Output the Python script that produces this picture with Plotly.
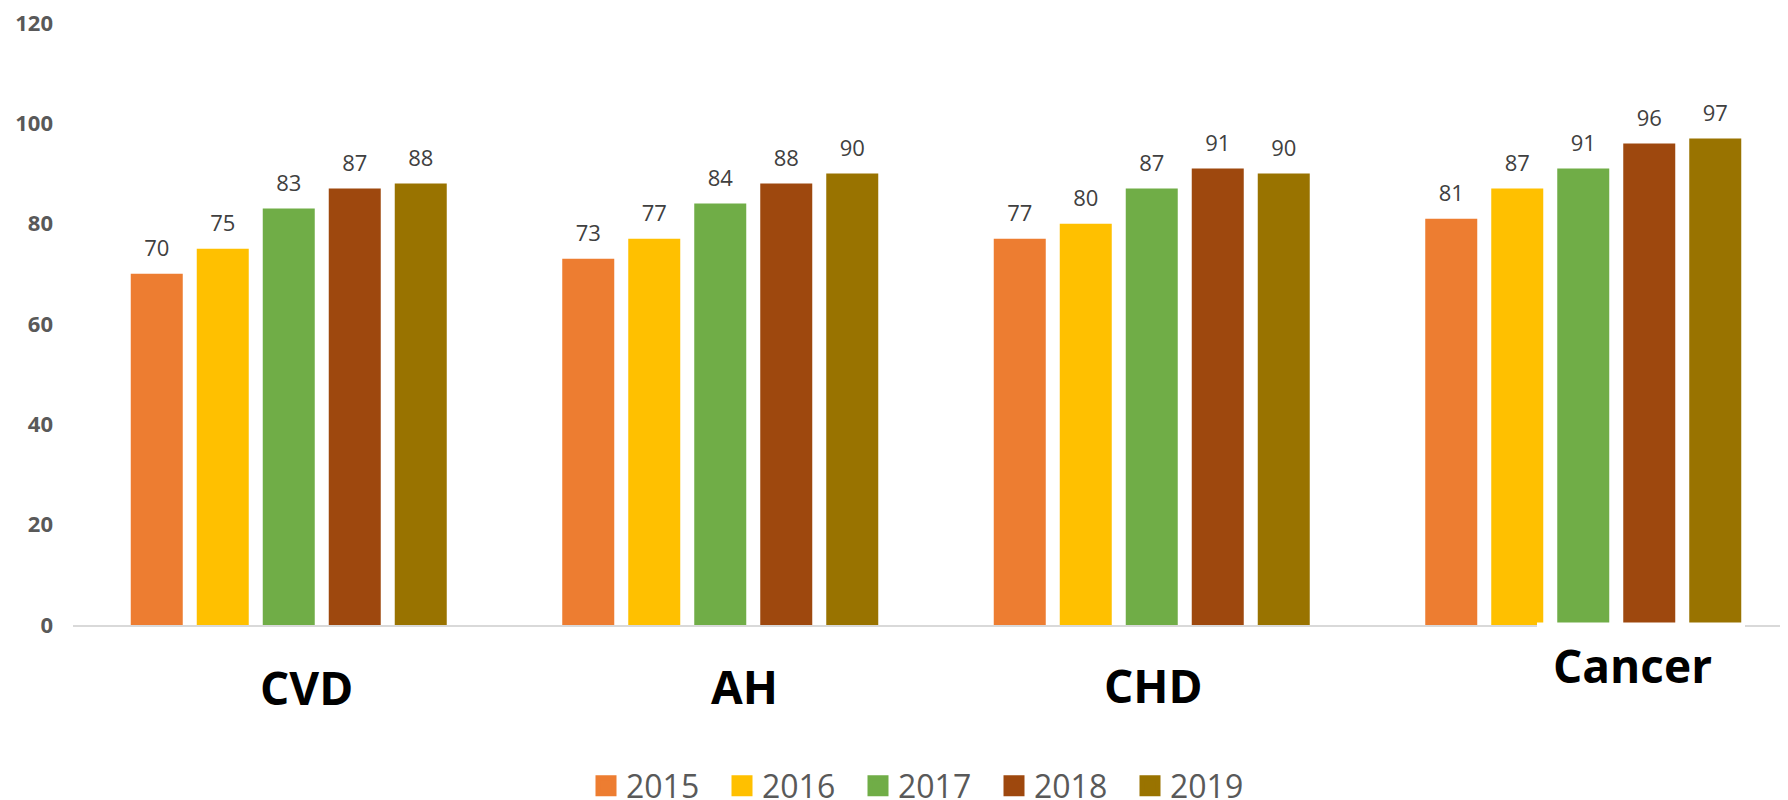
import plotly.graph_objects as go

# ---- data ----
categories = ["CVD", "AH", "CHD", "Cancer"]
years = ["2015", "2016", "2017", "2018", "2019"]
values_2015 = [70, 73, 77, 81]
values_2016 = [75, 77, 80, 87]
values_2017 = [83, 84, 87, 91]
values_2018 = [87, 88, 91, 96]
values_2019 = [88, 90, 90, 97]
y_ticks = [0, 20, 40, 60, 80, 100, 120]

series = [values_2015, values_2016, values_2017, values_2018, values_2019]
colors = ["#ED7D31", "#FFC000", "#70AD47", "#9E480E", "#997300"]

# ---- geometry (pixels, page body has an 8px default margin) ----
PAD = 8
PAGE_W, PAGE_H = 1788, 800
W, H = PAGE_W - PAD, PAGE_H - PAD
plot_left, plot_right = 73 - PAD, PAGE_W - PAD
plot_top, plot_bottom = 22.5 - PAD, 625.5 - PAD
cat_px = 431.5
plot_w = plot_right - plot_left
plot_h = plot_bottom - plot_top
x_end = -0.5 + plot_w / cat_px
gap = 1 - 330 / cat_px

FONT = "Open Sans"

fig = go.Figure()

for yr, vals, col in zip(years, series, colors):
    fig.add_trace(go.Bar(
        x=categories, y=vals, name=yr, marker=dict(color=col, line=dict(width=0)),
        offsetgroup=yr, showlegend=False, hoverinfo="x+y+name",
    ))

for yr, vals, col in zip(years, series, colors):
    fig.add_trace(go.Scatter(
        x=categories, y=vals, mode="markers+text", text=[str(v) for v in vals],
        textposition="top center",
        textfont=dict(family=FONT, size=22, color="#404040"),
        marker=dict(size=17.6, opacity=0, color=col),
        offsetgroup=yr, showlegend=False, hoverinfo="skip", cliponaxis=False,
    ))

for yr, col in zip(years, colors):
    fig.add_trace(go.Scatter(
        x=[None], y=[None], mode="markers", name=yr,
        marker=dict(symbol="square", size=16, color=col, line=dict(color=col, width=5)),
        offsetgroup=yr, showlegend=True, hoverinfo="skip",
    ))

# category labels (reference page pixels)
label_shift = [18, 24, 2, 49]
label_y_px = [687.5, 687, 686, 665.5]
annotations = []
for cat, dx, ypx in zip(categories, label_shift, label_y_px):
    annotations.append(dict(
        x=cat, xref="x", y=(plot_bottom - (ypx - PAD)) / plot_h, yref="paper",
        text=cat, showarrow=False, xshift=dx, yanchor="middle", xanchor="center",
        font=dict(family=FONT, size=46, color="#000000", weight="bold"),
    ))

fig.update_layout(
    width=W, height=H,
    margin=dict(l=plot_left, r=W - plot_right, t=plot_top, b=H - plot_bottom, autoexpand=False),
    paper_bgcolor="white", plot_bgcolor="white",
    barmode="group", bargap=gap, bargroupgap=14 / 66,
    scattermode="group", scattergap=gap,
    xaxis=dict(
        type="category", categoryorder="array", categoryarray=categories,
        range=[-0.5, x_end], showline=True, linecolor="#D9D9D9", linewidth=1.5,
        showticklabels=False, showgrid=False, zeroline=False, ticks="",
    ),
    yaxis=dict(
        range=[0, 120], tickvals=y_ticks, showgrid=False, zeroline=False, showline=False,
        ticks="", ticklabelstandoff=19, ticklabeloverflow="allow",
        tickfont=dict(family=FONT, size=22, color="#595959", weight="bold"),
    ),
    legend=dict(
        orientation="h", xref="container", yref="container",
        x=(586 - PAD) / W, xanchor="left", y=(PAGE_H - 786) / H, yanchor="middle",
        font=dict(family=FONT, size=32, color="#595959"),
        itemwidth=30, entrywidth=91, traceorder="normal",
        bgcolor="rgba(0,0,0,0)",
    ),
    shapes=[dict(
        type="rect", xref="paper", yref="paper", layer="above",
        x0=(1537 - 73) / plot_w, x1=(1745 - 73) / plot_w,
        y0=(625.5 - 623) / plot_h, y1=-0.2,
        fillcolor="white", line=dict(width=0),
    )],
    annotations=annotations,
    showlegend=True,
)

fig.write_html("out.html")
